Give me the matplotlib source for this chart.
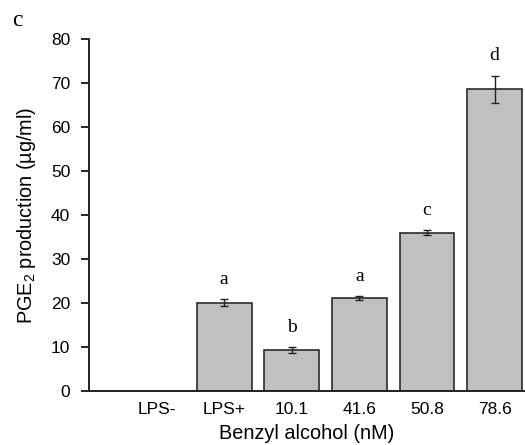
import matplotlib.pyplot as plt
import numpy as np

plt.rcParams['font.family'] = ['Liberation Sans', 'DejaVu Sans']
plt.rcParams['mathtext.fontset'] = 'custom'
plt.rcParams['mathtext.rm'] = 'Liberation Sans'

groups = ["LPS-", "LPS+", "10.1", "41.6", "50.8", "78.6"]
pge2 = [0.0, 20.1, 9.3, 21.1, 36.0, 68.6]
pge2_err = [0.0, 0.7, 0.6, 0.5, 0.5, 3.1]
letters = ["", "a", "b", "a", "c", "d"]

fig = plt.figure(figsize=(5.25, 4.45), dpi=100)
ax = fig.add_axes([0.1695, 0.1213, 0.8305, 0.7911])

x = np.arange(len(groups))
vals = np.array(pge2)
errs = np.array(pge2_err)
show = vals > 0

ax.bar(x[show], vals[show], width=0.81, color="#c0c0c0",
       edgecolor="#2a2a2a", linewidth=1.2, zorder=2)
ax.errorbar(x[show], vals[show], yerr=errs[show], fmt="none",
            ecolor="#222222", elinewidth=1.0, capsize=3, capthick=1.0, zorder=3)

for xi, v, e, lab in zip(x, vals, errs, letters):
    if lab:
        ax.text(xi, v + e + 2.6, lab, ha="center", va="bottom",
                family="Liberation Serif", fontsize=14)

ax.set_xlim(-1.0, 5.45)
ax.set_ylim(0, 80)
ax.set_yticks(np.arange(0, 81, 10))
ax.set_xticks(x)
ax.set_xticklabels(groups)
ax.tick_params(axis="x", length=0, pad=8, labelsize=12.5)
ax.tick_params(axis="y", length=5.5, width=1.2, pad=8, labelsize=12.5)

for side in ("top", "right"):
    ax.spines[side].set_visible(False)
for side in ("left", "bottom"):
    ax.spines[side].set_linewidth(1.4)
    ax.spines[side].set_color("#222222")

ax.set_ylabel("PGE$_\\mathrm{2}$ production (\u00b5g/ml)", fontsize=14.3, labelpad=9)
ax.set_xlabel("Benzyl alcohol (nM)", fontsize=14.3, labelpad=5)

fig.text(0.023, 0.955, "c", family="Liberation Serif", fontsize=17,
         ha="left", va="center")

fig.savefig("out.png", dpi=100)
